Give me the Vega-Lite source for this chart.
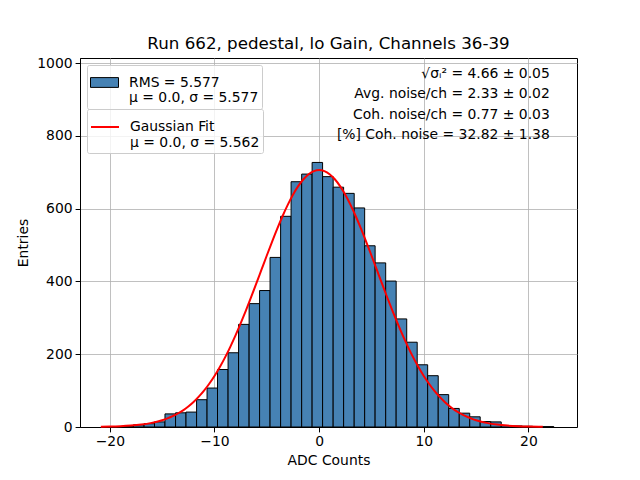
{
  "$schema": "https://vega.github.io/schema/vega-lite/v6.json",
  "title": {"text": "Run 662, pedestal, lo Gain, Channels 36-39", "fontSize": 16.7, "fontWeight": "normal", "color": "black", "offset": 3, "anchor": "middle"},
  "width": 497, "height": 369,
  "autosize": "none",
  "padding": {"left": 80, "top": 58, "right": 63, "bottom": 53},
  "datasets": {
    "hist": [
      {"start": -20.75, "end": -19.75, "count": 1},
      {"start": -19.75, "end": -18.74, "count": 1},
      {"start": -18.74, "end": -17.74, "count": 2},
      {"start": -17.74, "end": -16.73, "count": 6},
      {"start": -16.73, "end": -15.73, "count": 9},
      {"start": -15.73, "end": -14.73, "count": 14},
      {"start": -14.73, "end": -13.72, "count": 36},
      {"start": -13.72, "end": -12.72, "count": 39},
      {"start": -12.72, "end": -11.71, "count": 41},
      {"start": -11.71, "end": -10.71, "count": 75},
      {"start": -10.71, "end": -9.71, "count": 107},
      {"start": -9.71, "end": -8.70, "count": 158},
      {"start": -8.70, "end": -7.70, "count": 204},
      {"start": -7.70, "end": -6.69, "count": 282},
      {"start": -6.69, "end": -5.69, "count": 339},
      {"start": -5.69, "end": -4.69, "count": 375},
      {"start": -4.69, "end": -3.68, "count": 466},
      {"start": -3.68, "end": -2.68, "count": 579},
      {"start": -2.68, "end": -1.67, "count": 674},
      {"start": -1.67, "end": -0.67, "count": 695},
      {"start": -0.67, "end": 0.33, "count": 727},
      {"start": 0.33, "end": 1.34, "count": 688},
      {"start": 1.34, "end": 2.34, "count": 659},
      {"start": 2.34, "end": 3.35, "count": 642},
      {"start": 3.35, "end": 4.35, "count": 602},
      {"start": 4.35, "end": 5.35, "count": 498},
      {"start": 5.35, "end": 6.36, "count": 451},
      {"start": 6.36, "end": 7.36, "count": 401},
      {"start": 7.36, "end": 8.37, "count": 297},
      {"start": 8.37, "end": 9.37, "count": 233},
      {"start": 9.37, "end": 10.37, "count": 171},
      {"start": 10.37, "end": 11.38, "count": 141},
      {"start": 11.38, "end": 12.38, "count": 89},
      {"start": 12.38, "end": 13.39, "count": 51},
      {"start": 13.39, "end": 14.39, "count": 38},
      {"start": 14.39, "end": 15.39, "count": 28},
      {"start": 15.39, "end": 16.40, "count": 15},
      {"start": 16.40, "end": 17.40, "count": 14},
      {"start": 17.40, "end": 18.41, "count": 4},
      {"start": 18.41, "end": 19.41, "count": 3},
      {"start": 19.41, "end": 20.41, "count": 2},
      {"start": 20.41, "end": 21.42, "count": 1},
      {"start": 21.42, "end": 22.42, "count": 1}
    ],
    "fit": [
      {"x": -20.86, "y": 0.6}, {"x": -20, "y": 1.1}, {"x": -19, "y": 2.1}, {"x": -18, "y": 3.8},
      {"x": -17, "y": 6.6}, {"x": -16, "y": 11.3}, {"x": -15.5, "y": 14.5}, {"x": -15, "y": 18.6},
      {"x": -14.5, "y": 23.6}, {"x": -14, "y": 29.7}, {"x": -13.5, "y": 37.1}, {"x": -13, "y": 45.9},
      {"x": -12.5, "y": 56.5}, {"x": -12, "y": 68.8}, {"x": -11.5, "y": 83.3}, {"x": -11, "y": 99.8},
      {"x": -10.5, "y": 118.8}, {"x": -10, "y": 140.2}, {"x": -9.5, "y": 164.2}, {"x": -9, "y": 190.6},
      {"x": -8.5, "y": 219.6}, {"x": -8, "y": 250.9}, {"x": -7.5, "y": 284.5}, {"x": -7, "y": 319.8},
      {"x": -6.5, "y": 356.6}, {"x": -6, "y": 394.6}, {"x": -5.5, "y": 433.0}, {"x": -5, "y": 471.3},
      {"x": -4.5, "y": 508.9}, {"x": -4, "y": 545.1}, {"x": -3.5, "y": 579.2}, {"x": -3, "y": 610.4},
      {"x": -2.5, "y": 638.2}, {"x": -2, "y": 661.8}, {"x": -1.5, "y": 680.8}, {"x": -1, "y": 694.7},
      {"x": -0.5, "y": 703.2}, {"x": 0, "y": 706},
      {"x": 0.5, "y": 703.2}, {"x": 1, "y": 694.7}, {"x": 1.5, "y": 680.8}, {"x": 2, "y": 661.8},
      {"x": 2.5, "y": 638.2}, {"x": 3, "y": 610.4}, {"x": 3.5, "y": 579.2}, {"x": 4, "y": 545.1},
      {"x": 4.5, "y": 508.9}, {"x": 5, "y": 471.3}, {"x": 5.5, "y": 433.0}, {"x": 6, "y": 394.6},
      {"x": 6.5, "y": 356.6}, {"x": 7, "y": 319.8}, {"x": 7.5, "y": 284.5}, {"x": 8, "y": 250.9},
      {"x": 8.5, "y": 219.6}, {"x": 9, "y": 190.6}, {"x": 9.5, "y": 164.2}, {"x": 10, "y": 140.2},
      {"x": 10.5, "y": 118.8}, {"x": 11, "y": 99.8}, {"x": 11.5, "y": 83.3}, {"x": 12, "y": 68.8},
      {"x": 12.5, "y": 56.5}, {"x": 13, "y": 45.9}, {"x": 13.5, "y": 37.1}, {"x": 14, "y": 29.7},
      {"x": 14.5, "y": 23.6}, {"x": 15, "y": 18.6}, {"x": 15.5, "y": 14.5}, {"x": 16, "y": 11.3},
      {"x": 17, "y": 6.6}, {"x": 18, "y": 3.8}, {"x": 19, "y": 2.1}, {"x": 20, "y": 1.1},
      {"x": 21, "y": 0.6}, {"x": 21.37, "y": 0.5}
    ],
    "notes": [
      {"text": "√σᵢ² = 4.66 ± 0.05\nAvg. noise/ch = 2.33 ± 0.02\nCoh. noise/ch = 0.77 ± 0.03\n[%] Coh. noise = 32.82 ± 1.38"}
    ]
  },
  "layer": [
    {
      "data": {"name": "hist"},
      "mark": {"type": "bar", "stroke": "black", "strokeWidth": 1, "opacity": 1},
      "encoding": {
        "x": {"field": "start", "type": "quantitative", "title": "ADC Counts",
              "scale": {"domain": [-22.85, 24.64], "nice": false, "zero": false},
              "axis": {"values": [-20, -10, 0, 10, 20], "format": "d"}},
        "x2": {"field": "end"},
        "y": {"field": "count", "type": "quantitative", "title": "Entries",
              "scale": {"domain": [0, 1014], "nice": false},
              "axis": {"values": [0, 200, 400, 600, 800, 1000], "format": "d"}},
        "y2": {"datum": 0},
        "fill": {
          "datum": "RMS = 5.577\nμ = 0.0, σ = 5.577",
          "scale": {"range": ["#4682b4"]},
          "legend": {
            "title": null,
            "orient": "top-left",
            "offset": 7,
            "padding": 3,
            "labelExpr": "split(datum.label, '\\n')",
            "labelOffset": 10,
            "symbolSize": 784,
            "symbolType": "M-1,-0.35H1V0.35H-1Z",
            "symbolStrokeColor": "black",
            "symbolStrokeWidth": 1,
            "symbolOpacity": 1
          }
        }
      }
    },
    {
      "data": {"name": "fit"},
      "mark": {"type": "line", "strokeWidth": 2, "interpolate": "monotone"},
      "encoding": {
        "x": {"field": "x", "type": "quantitative"},
        "y": {"field": "y", "type": "quantitative"},
        "stroke": {
          "datum": "Gaussian Fit\nμ = 0.0, σ = 5.562",
          "scale": {"range": ["red"]},
          "legend": {
            "title": null,
            "orient": "top-left",
            "offset": 7,
            "padding": 3,
            "labelExpr": "split(datum.label, '\\n')",
            "labelOffset": 10,
            "symbolSize": 784,
            "symbolType": "stroke",
            "symbolStrokeWidth": 2
          }
        }
      }
    },
    {
      "data": {"name": "notes"},
      "mark": {"type": "text", "align": "right", "baseline": "top", "lineBreak": "\n", "lineHeight": 20.5, "fontSize": 13.9, "color": "black"},
      "encoding": {
        "x": {"datum": 22.04},
        "y": {"datum": 990},
        "text": {"field": "text"}
      }
    }
  ],
  "config": {
    "font": "DejaVu Sans",
    "view": {"stroke": "black", "strokeWidth": 1},
    "legend": {
      "labelFontSize": 13.9,
      "labelColor": "black",
      "labelLimit": 300,
      "fillColor": "rgba(255,255,255,0.8)",
      "strokeColor": "#cccccc",
      "cornerRadius": 2,
      "layout": {"top-left": {"direction": "vertical", "margin": -2, "anchor": "start"}}
    },
    "axis": {
      "zindex": 1,
      "labelFontSize": 13.9,
      "labelColor": "black",
      "titleFontSize": 13.9,
      "titleFontWeight": "normal",
      "titleColor": "black",
      "tickColor": "black",
      "tickSize": 4.9,
      "domainColor": "black",
      "gridColor": "#b0b0b0",
      "gridWidth": 0.8,
      "gridOpacity": 1,
      "labelPadding": 3
    },
    "axisX": {"titlePadding": 5},
    "axisY": {"titlePadding": 6, "labelPadding": 3}
  }
}
